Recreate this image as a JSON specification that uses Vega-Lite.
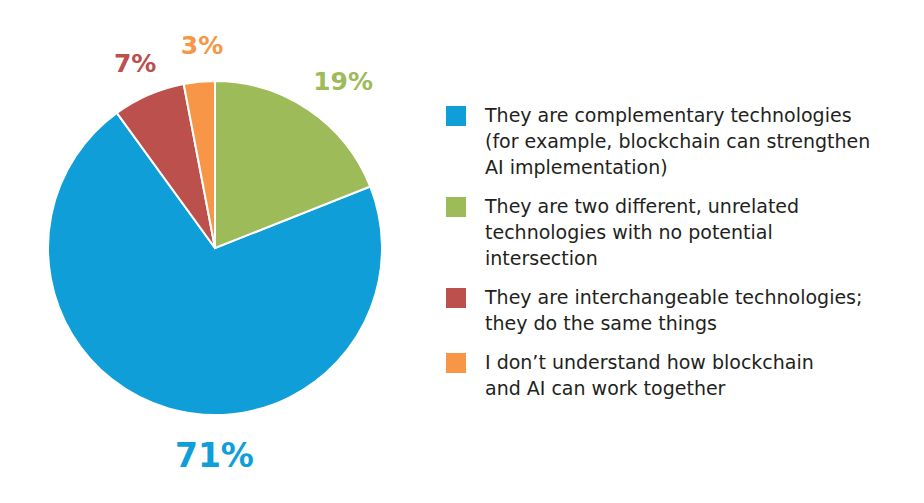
{
  "$schema": "https://vega.github.io/schema/vega-lite/v6.json",
  "width": 430,
  "height": 496,
  "padding": 0,
  "autosize": {"type": "pad"},
  "background": "white",
  "config": {"view": {"stroke": null}, "font": "DejaVu Sans"},
  "data": {
    "values": [
      {"answer": "They are complementary technologies|(for example, blockchain can strengthen|AI implementation)", "pct": 71, "label": "71%", "pos": 2},
      {"answer": "They are two different, unrelated|technologies with no potential|intersection", "pct": 19, "label": "19%", "pos": 1},
      {"answer": "They are interchangeable technologies;|they do the same things", "pct": 7, "label": "7%", "pos": 3},
      {"answer": "I don’t understand how blockchain|and AI can work together", "pct": 3, "label": "3%", "pos": 4}
    ]
  },
  "encoding": {
    "theta": {"field": "pct", "type": "quantitative", "stack": true},
    "order": {"field": "pos", "type": "quantitative"},
    "color": {
      "field": "answer",
      "type": "nominal",
      "scale": {
        "domain": [
          "They are complementary technologies|(for example, blockchain can strengthen|AI implementation)",
          "They are two different, unrelated|technologies with no potential|intersection",
          "They are interchangeable technologies;|they do the same things",
          "I don’t understand how blockchain|and AI can work together"
        ],
        "range": ["#109ED9", "#9DBB59", "#BC504C", "#F79646"]
      },
      "legend": {
        "title": null,
        "orient": "none",
        "legendX": 446,
        "legendY": 106,
        "symbolType": "square",
        "symbolSize": 400,
        "symbolStrokeWidth": 0,
        "symbolOpacity": 1,
        "labelExpr": "split(datum.label, '|')",
        "labelFontSize": 19,
        "labelColor": "#231F20",
        "labelLimit": 0,
        "labelOffset": 19,
        "labelBaseline": "top",
        "rowPadding": 19,
        "encode": {"labels": {"update": {"lineHeight": {"value": 26}, "dy": {"value": -9}}}}
      }
    }
  },
  "layer": [
    {
      "mark": {"type": "arc", "outerRadius": 167, "stroke": "white", "strokeWidth": 2}
    },
    {
      "mark": {"type": "text", "radius": 210, "thetaOffset": 0.059, "fontSize": 25, "fontWeight": "bold"},
      "encoding": {"text": {"condition": {"test": "datum.label == '19%'", "field": "label"}, "value": ""}}
    },
    {
      "mark": {"type": "text", "radius": 201, "fontSize": 25, "fontWeight": "bold"},
      "encoding": {"text": {"condition": {"test": "datum.label == '7%'", "field": "label"}, "value": ""}}
    },
    {
      "mark": {"type": "text", "radius": 202, "thetaOffset": 0.03, "fontSize": 25, "fontWeight": "bold"},
      "encoding": {"text": {"condition": {"test": "datum.label == '3%'", "field": "label"}, "value": ""}}
    },
    {
      "mark": {"type": "text", "radius": 209, "thetaOffset": -0.28, "fontSize": 33, "fontWeight": "bold"},
      "encoding": {"text": {"condition": {"test": "datum.label == '71%'", "field": "label"}, "value": ""}}
    }
  ]
}
